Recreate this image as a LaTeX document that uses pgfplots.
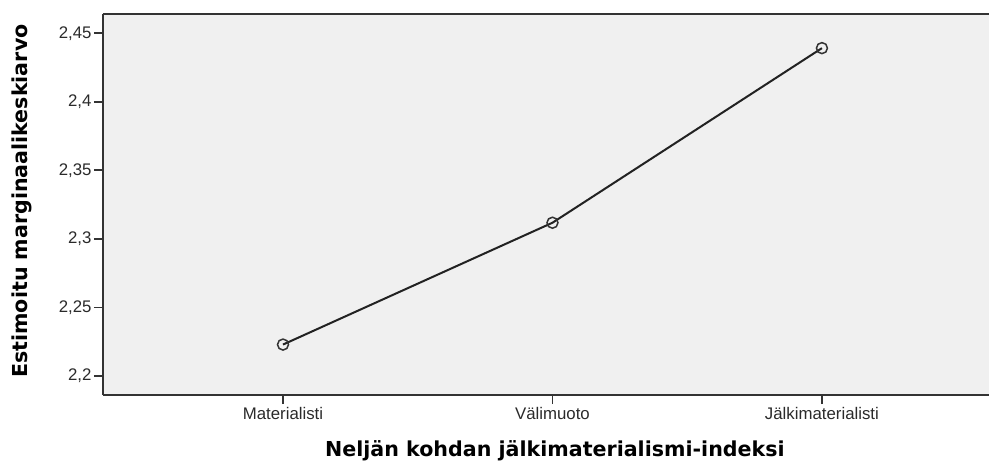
\documentclass[border=0pt]{standalone}
\usepackage{fontspec}
\setmainfont{Liberation Sans}
\newfontfamily\labelfont{DejaVu Sans}
\usepackage{pgfplots}
\pgfplotsset{compat=1.18}
\definecolor{bgc}{HTML}{F0F0F0}
\definecolor{linec}{HTML}{222222}
\definecolor{framec}{HTML}{333333}
\definecolor{tickc}{HTML}{2A2A2A}
\begin{document}
\begin{tikzpicture}
\begin{axis}[
  name=ax,
  scale only axis,
  width=886bp, height=381bp,
  xmin=-0.668, xmax=2.620,
  ymin=2.1861, ymax=2.4641,
  axis x line*=box, axis y line*=left,
  axis line style={draw=framec, line width=2bp},
  axis background/.style={fill=bgc},
  xtick={0,1,2},
  xticklabels={Materialisti,Välimuoto,Jälkimaterialisti},
  ytick={2.2,2.25,2.3,2.35,2.4,2.45},
  yticklabels={{2,2},{2,25},{2,3},{2,35},{2,4},{2,45}},
  xtick pos=lower, ytick pos=left,
  tick align=outside,
  major tick length=9bp,
  every tick/.style={draw=framec, line width=1.8bp},
  tick label style={font=\fontsize{16.8bp}{19bp}\selectfont, text=tickc},
  yticklabel style={xshift=1bp},
  xlabel={Neljän kohdan jälkimaterialismi-indeksi},
  ylabel={Estimoitu marginaalikeskiarvo},
  label style={font=\labelfont\bfseries\fontsize{20.6bp}{24bp}\selectfont, text=black},
  xlabel style={at={(axis description cs:0.510,-0.147)}, anchor=center},
  ylabel style={at={(axis description cs:-0.0914,0.509)}, anchor=center},
  clip=false,
]
\addplot[color=linec, line width=2bp, mark=o, mark size=5.5bp,
  mark options={draw=framec, line width=1.5bp}]
  coordinates {(0,2.2229) (1,2.3118) (2,2.4392)};
\end{axis}
\pgfresetboundingbox
\path[use as bounding box] ([xshift=-103bp,yshift=-80bp]ax.south west) rectangle ([yshift=14bp]ax.north east);
\end{tikzpicture}
\end{document}
